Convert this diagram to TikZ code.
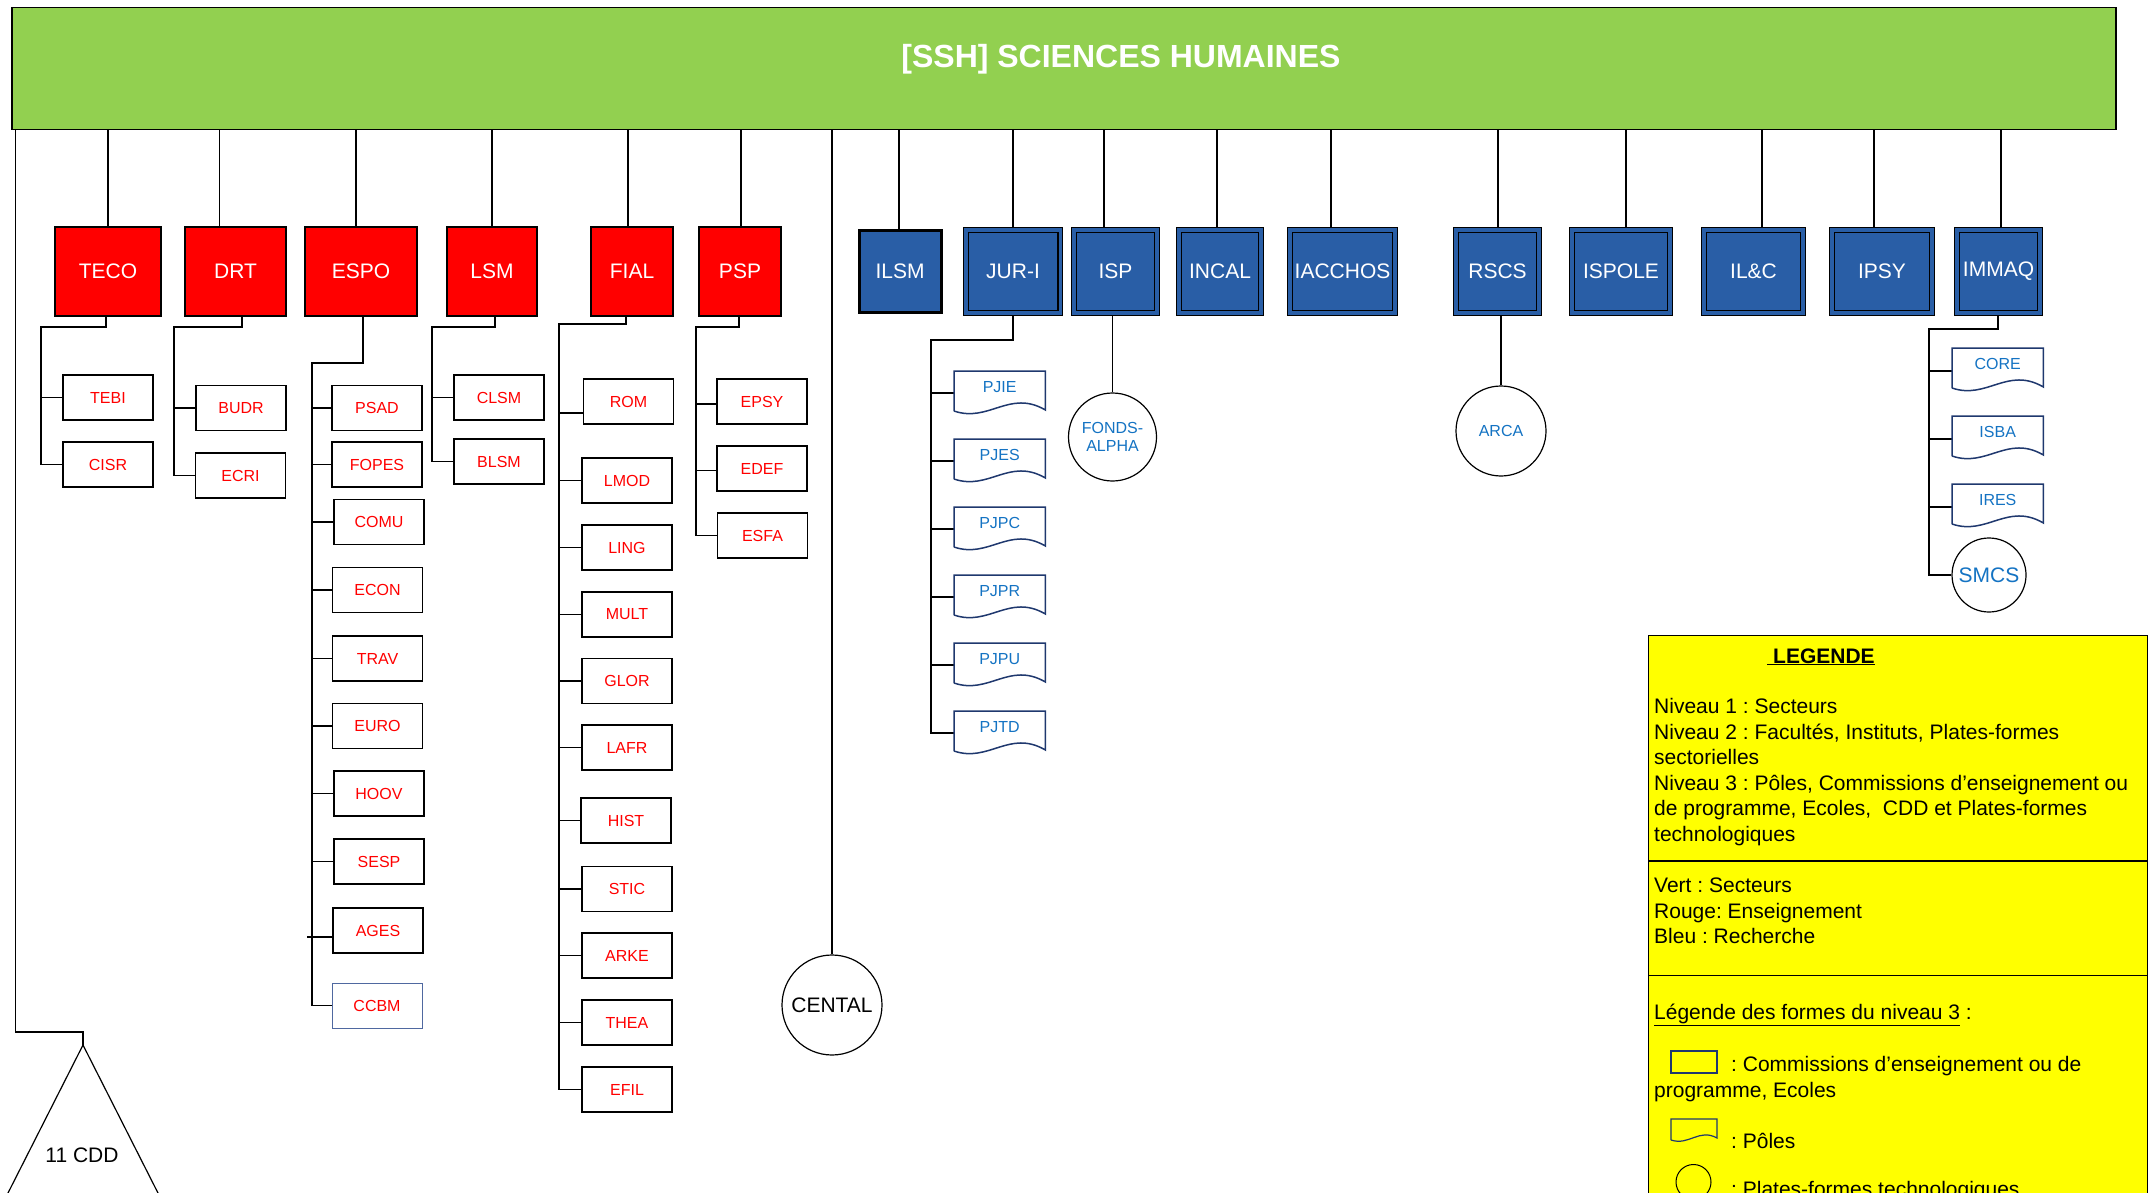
\documentclass[tikz,border=0pt]{standalone}
\usepackage{fontspec}
\setmainfont{Liberation Sans}
\usetikzlibrary{calc,backgrounds}
\definecolor{sshgreen}{RGB}{146,208,80}
\definecolor{boxblue}{RGB}{41,94,166}
\definecolor{txtblue}{RGB}{20,115,195}
\definecolor{navy}{RGB}{31,56,110}
\definecolor{ccbmblue}{RGB}{79,104,160}
\definecolor{legyellow}{RGB}{255,255,0}
\frenchspacing
\tikzset{
  conn/.style={draw=black, line width=1.8pt},
  vconn/.style={draw=black, line width=1.4pt},
  bar/.style={rectangle, fill=sshgreen, draw=black, line width=1.5pt, minimum width=2104pt, minimum height=122pt, inner sep=0pt},
  lvtwored/.style={rectangle, fill=red, draw=black, line width=1.4pt, minimum height=89pt, inner sep=0pt, text=white, font=\fontsize{21}{25}\selectfont},
  lvtwoblue/.style={rectangle, fill=boxblue, draw=black, line width=1.2pt, double=boxblue, double distance=3.5pt, minimum height=83pt, inner sep=0pt, text=white, font=\fontsize{21}{25}\selectfont},
  ilsmbox/.style={rectangle, fill=boxblue, draw=black, line width=3pt, minimum height=82pt, minimum width=82pt, inner sep=0pt, text=white, font=\fontsize{21}{25}\selectfont},
  ens/.style={rectangle, draw=black, fill=white, line width=1.8pt, minimum width=90pt, minimum height=45pt, inner sep=0pt, text=red, font=\fontsize{16}{19}\selectfont},
  pole/.style={rectangle, minimum width=91pt, minimum height=32pt, inner sep=0pt, anchor=north west, text=txtblue, font=\fontsize{16}{19}\selectfont},
  poleline/.style={draw=navy, line width=1.5pt, line join=miter},
  plat/.style={circle, draw=black, line width=1.2pt, inner sep=0pt, fill=white, text=txtblue, font=\fontsize{16}{19}\selectfont, align=center},
  legtext/.style={anchor=base west, inner sep=0pt, font=\fontsize{21}{25.5}\selectfont, text=black},
}
\newcommand\polenode[4]{%
  \node[pole] (#1) at (#2,#3) {#4};
  \draw[poleline] ($(#1.north west)+(0,40)$) -- (#1.north west) -- (#1.north east) -- ($(#1.north east)+(0,39)$) .. controls +(-36,-21) and +(35,12) .. ($(#1.north west)+(0,40)$);
}
\begin{document}
\begin{tikzpicture}[x=1pt,y=-1pt]
\useasboundingbox (0,0) rectangle (2152,1193);

% ---------- level 1 ----------
\node[bar] (ssh) at (1064,68.5) {};
\node[anchor=base, inner sep=0pt, text=white, font=\fontsize{32}{38}\selectfont\bfseries] (title) at (1121,68) {[SSH] SCIENCES HUMAINES};

% ---------- level 2 : red ----------
\node[lvtwored, minimum width=106pt] (TECO) at (108,271.5) {TECO};
\node[lvtwored, minimum width=101pt] (DRT) at (235.5,271.5) {DRT};
\node[lvtwored, minimum width=112pt] (ESPO) at (361,271.5) {ESPO};
\node[lvtwored, minimum width=90pt] (LSM) at (492,271.5) {LSM};
\node[lvtwored, minimum width=82pt] (FIAL) at (632,271.5) {FIAL};
\node[lvtwored, minimum width=82pt] (PSP) at (740,271.5) {PSP};

% ---------- level 2 : blue ----------
\node[ilsmbox] (ILSM) at (900,271.5) {ILSM};
\node[lvtwoblue, minimum width=94.5pt] (JURI) at (1013,271.5) {JUR-I};
\node[lvtwoblue, minimum width=83pt] (ISP) at (1115.5,271.5) {ISP};
\node[lvtwoblue, minimum width=82pt] (INCAL) at (1220,271.5) {INCAL};
\node[lvtwoblue, minimum width=105pt] (IACCHOS) at (1342.5,271.5) {IACCHOS};
\node[lvtwoblue, minimum width=83pt] (RSCS) at (1497.5,271.5) {RSCS};
\node[lvtwoblue, minimum width=98pt] (ISPOLE) at (1621,271.5) {ISPOLE};
\node[lvtwoblue, minimum width=99pt] (ILC) at (1753.5,271.5) {IL\&C};
\node[lvtwoblue, minimum width=100pt] (IPSY) at (1882,271.5) {IPSY};
\node[lvtwoblue, minimum width=83pt] (IMMAQ) at (1998.5,271.5) {IMMAQ};

% ---------- level 3 : teaching ----------
\node[ens] (TEBI) at (108,397.5) {TEBI};
\node[ens] (CISR) at (108,464.5) {CISR};
\node[ens] (BUDR) at (241,408) {BUDR};
\node[ens] (ECRI) at (240.5,475.5) {ECRI};
\node[ens] (PSAD) at (377,408) {PSAD};
\node[ens] (FOPES) at (377,464.5) {FOPES};
\node[ens] (COMU) at (379,522) {COMU};
\node[ens] (ECON) at (377.5,590) {ECON};
\node[ens] (TRAV) at (377.5,658.5) {TRAV};
\node[ens] (EURO) at (377.5,726) {EURO};
\node[ens] (HOOV) at (379,793.5) {HOOV};
\node[ens] (SESP) at (379,861.5) {SESP};
\node[ens] (AGES) at (378,930.5) {AGES};
\node[ens, draw=ccbmblue, line width=0.9pt] (CCBM) at (377,1005.5) {CCBM};
\node[ens] (CLSM) at (499,397.5) {CLSM};
\node[ens] (BLSM) at (499,461.5) {BLSM};
\node[ens] (ROM) at (628.5,401.5) {ROM};
\node[ens] (LMOD) at (627,480.5) {LMOD};
\node[ens] (LING) at (627,547.5) {LING};
\node[ens] (MULT) at (627,614.5) {MULT};
\node[ens] (GLOR) at (627,681) {GLOR};
\node[ens] (LAFR) at (627,747.5) {LAFR};
\node[ens] (HIST) at (626,820.5) {HIST};
\node[ens] (STIC) at (627,889) {STIC};
\node[ens] (ARKE) at (627,955.5) {ARKE};
\node[ens] (THEA) at (627,1022.5) {THEA};
\node[ens] (EFIL) at (627,1089.5) {EFIL};
\node[ens] (EPSY) at (762,401.5) {EPSY};
\node[ens] (EDEF) at (762,468.5) {EDEF};
\node[ens] (ESFA) at (762.5,535.5) {ESFA};

% ---------- level 3 : research ----------
\polenode{PJIE}{954}{371}{PJIE}
\polenode{PJES}{954}{439}{PJES}
\polenode{PJPC}{954}{507}{PJPC}
\polenode{PJPR}{954}{575}{PJPR}
\polenode{PJPU}{954}{643}{PJPU}
\polenode{PJTD}{954}{711}{PJTD}
\polenode{CORE}{1952}{348}{CORE}
\polenode{ISBA}{1952}{416}{ISBA}
\polenode{IRES}{1952}{484}{IRES}
\node[plat, minimum size=88pt] (FONDS) at (1112.5,437) {FONDS-\\[-1pt]ALPHA};
\node[plat, minimum size=90pt] (ARCA) at (1501,431) {ARCA};
\node[plat, minimum size=74pt, font=\fontsize{21}{25}\selectfont] (SMCS) at (1989,575) {SMCS};
\node[plat, minimum size=100pt, text=black, font=\fontsize{21}{25}\selectfont] (CENTAL) at (832,1005) {CENTAL};

% ---------- CDD ----------
\coordinate (leftA) at (15.5,1032);
\coordinate (cddtop) at (83,1045);
\draw[line width=1.2pt] ($(cddtop)+(-76,150)$) -- (cddtop) -- ($(cddtop)+(76,150)$);
\node[font=\fontsize{21}{25}\selectfont, inner sep=0pt] (cdd) at (82,1155) {11 CDD};

% ---------- connectors ----------
\begin{scope}[on background layer]
  \fill[white] (0,0) rectangle (2152,1193);
  \foreach \n/\dx in {TECO/0,DRT/-16,ESPO/-5,LSM/0,FIAL/-4,PSP/1,ILSM/-1,JURI/0,ISP/-11.5,INCAL/-3,IACCHOS/-11.5,RSCS/0.5,ISPOLE/5,ILC/8.5,IPSY/-8,IMMAQ/2.5}
    \draw[vconn] ($(\n.north)+(\dx,0)$) -- ($(\n.north |- ssh.south)+(\dx,0)$);
  \draw[vconn] (CENTAL.north) -- (CENTAL.north |- ssh.south);
  \draw[vconn] (ssh.south -| leftA) -- (leftA) -| (cddtop);
  \draw[vconn] (FONDS.north) -- (FONDS.north |- ISP.south);
  \draw[vconn] (ARCA.north) -- (ARCA.north |- RSCS.south);
  % TECO
  \coordinate (tecoA) at (41,327);
  \draw[conn] ([xshift=-2pt]TECO.south) |- (tecoA) |- (CISR.west);
  \draw[conn] (tecoA |- TEBI.west) -- (TEBI.west);
  % DRT
  \coordinate (drtA) at (174,327);
  \draw[conn] ([xshift=6.5pt]DRT.south) |- (drtA) |- (ECRI.west);
  \draw[conn] (drtA |- BUDR.west) -- (BUDR.west);
  % ESPO
  \coordinate (espoA) at (312,363);
  \draw[conn] ([xshift=2pt]ESPO.south) |- (espoA) |- (CCBM.west);
  \foreach \n in {PSAD,FOPES,COMU,ECON,TRAV,EURO,HOOV,SESP}
    \draw[conn] (espoA |- \n.west) -- (\n.west);
  \coordinate (agesB) at ([yshift=-6.5pt]AGES.west);
  \draw[conn] ($(espoA |- agesB)+(-5,0)$) -- (agesB);
  % LSM
  \coordinate (lsmA) at (432,327);
  \draw[conn] ([xshift=2.6pt]LSM.south) |- (lsmA) |- (BLSM.west);
  \draw[conn] (lsmA |- CLSM.west) -- (CLSM.west);
  % FIAL
  \coordinate (fialA) at (559,324);
  \draw[conn] ([xshift=-6.3pt]FIAL.south) |- (fialA) |- (EFIL.west);
  \coordinate (romB) at ([yshift=-11.5pt]ROM.west);
  \draw[conn] (fialA |- romB) -- (romB);
  \foreach \n in {LMOD,LING,MULT,GLOR,LAFR,HIST,STIC,ARKE,THEA}
    \draw[conn] (fialA |- \n.west) -- (\n.west);
  % PSP
  \coordinate (pspA) at (696,327);
  \draw[conn] ([xshift=-1.3pt]PSP.south) |- (pspA) |- (ESFA.west);
  \coordinate (epsyB) at ([yshift=-2.5pt]EPSY.west);
  \draw[conn] (pspA |- epsyB) -- (epsyB);
  \draw[conn] ([yshift=-2pt]pspA |- EDEF.west) -- ([yshift=-2pt]EDEF.west);
  % JUR-I
  \coordinate (juriA) at (931,340);
  \draw[conn] (JURI.south) |- (juriA) -- ($(juriA |- PJTD.north west)+(0,22)$) -- ($(PJTD.north west)+(0,22)$);
  \foreach \n in {PJIE,PJES,PJPC,PJPR,PJPU}
    \draw[conn] ($(juriA |- \n.north west)+(0,22)$) -- ($(\n.north west)+(0,22)$);
  % IMMAQ
  \coordinate (immaqA) at (1929,329);
  \draw[conn] ([xshift=-0.5pt]IMMAQ.south) |- (immaqA) |- (SMCS.west);
  \foreach \n in {CORE,ISBA,IRES}
    \draw[conn] ($(immaqA |- \n.north west)+(0,23)$) -- ($(\n.north west)+(0,23)$);
\end{scope}

% ---------- legend ----------
\fill[legyellow] (1648,635) rectangle (2147,1200);
\draw[line width=1pt] (1648,1200) -- (1648,635) -- (2147,635) -- (2147,1200);
\draw[line width=1.5pt] (1648,861) -- (2147,861);
\draw[line width=1.5pt] (1648,975.6) -- (2147,975.6);
\node[legtext, font=\fontsize{21}{25.5}\selectfont\bfseries] (lgtitle) at (1767,663) {\underline{\kern6pt LEGENDE}};
\node[legtext] (lg1) at (1654,713.5) {Niveau 1 : Secteurs};
\node[legtext] (lg2) at (1654,739) {Niveau 2 : Facultés, Instituts, Plates-formes};
\node[legtext] (lg3) at (1654,764.5) {sectorielles};
\node[legtext] (lg4) at (1654,790) {Niveau 3 : Pôles, Commissions d’enseignement ou};
\node[legtext] (lg5) at (1654,815.5) {de programme, Ecoles,~ CDD et Plates-formes};
\node[legtext] (lg6) at (1654,841) {technologiques};
\node[legtext] (lg7) at (1654,892.5) {Vert : Secteurs};
\node[legtext] (lg8) at (1654,918.5) {Rouge: Enseignement};
\node[legtext] (lg9) at (1654,943.5) {Bleu : Recherche};
\node[legtext] (lg10) at (1654,1019.5) {\underline{Légende des formes du niveau 3} :};
\node[draw=navy, line width=1.2pt, minimum width=46pt, minimum height=22pt, inner sep=0pt] (lgrect) at (1694,1062) {};
\node[legtext] (lg11) at (1731,1071.5) {: Commissions d’enseignement ou de};
\node[legtext] (lg12) at (1654,1097.5) {programme, Ecoles};
\coordinate (lgpole) at (1671,1119);
\draw[poleline, line width=1.2pt] ($(lgpole)+(0,21)$) -- (lgpole) -- ($(lgpole)+(46,0)$) -- ($(lgpole)+(46,19)$) .. controls +(-18,-10) and +(18,6) .. ($(lgpole)+(0,21)$);
\node[legtext] (lg13) at (1731,1148.5) {: Pôles};
\node[circle, draw=black, line width=1pt, minimum size=35pt, inner sep=0pt] (lgcirc) at (1693.5,1182) {};
\node[legtext] (lg14) at (1731,1196) {: Plates-formes technologiques};
\end{tikzpicture}
\end{document}
